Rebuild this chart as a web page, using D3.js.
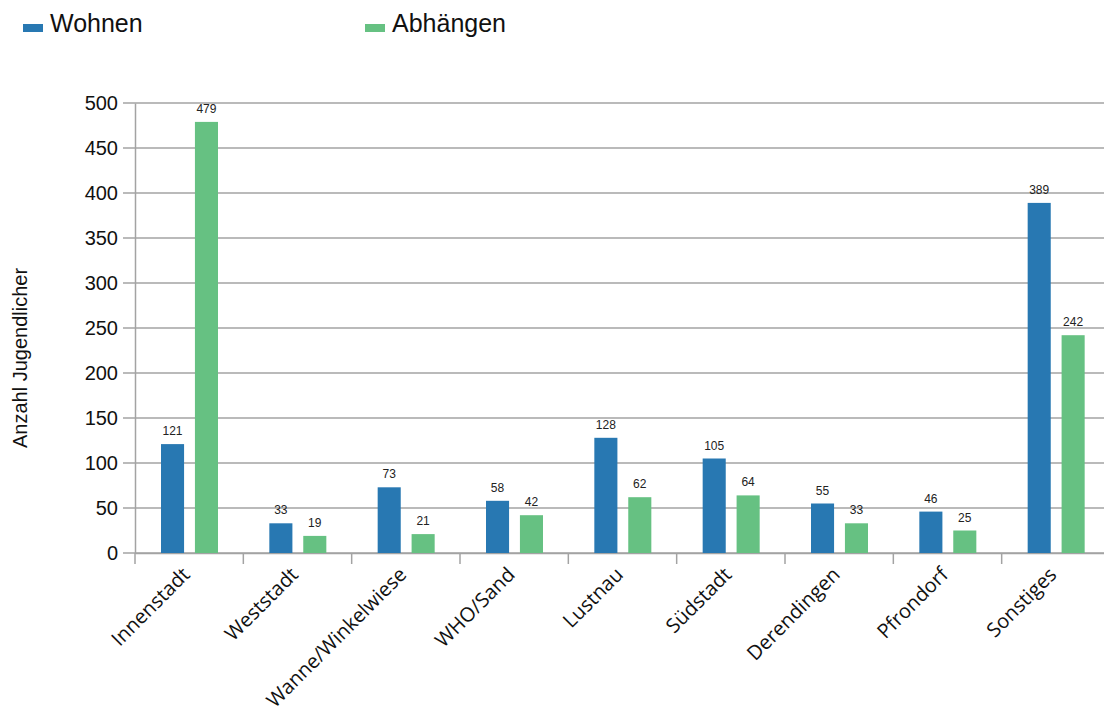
<!DOCTYPE html>
<html>
<head>
<meta charset="utf-8">
<script src="https://cdn.jsdelivr.net/npm/d3@7"></script>
<style>
  body { margin: 0; background: #fff; }
</style>
</head>
<body>
<script>
// Daten
var stadtteile = ["Innenstadt", "Weststadt", "Wanne/Winkelwiese", "WHO/Sand", "Lustnau", "Südstadt", "Derendingen", "Pfrondorf", "Sonstiges"];
var wohnen = [121, 33, 73, 58, 128, 105, 55, 46, 389];
var abhaengen = [479, 19, 21, 42, 62, 64, 33, 25, 242];
var serien = ["Wohnen", "Abhängen"];
var yTicks = [0, 50, 100, 150, 200, 250, 300, 350, 400, 450, 500];

var larg = 1104, haut = 720;
var couleurs = {"Wohnen": "#2878b2", "Abhängen": "#66c182"};

var svg = d3.select("body").append("svg")
  .attr("width", larg)
  .attr("height", haut);

var x = d3.scaleBand().domain(stadtteile).range([135, 1110]);
var xs = d3.scaleBand().domain(serien).range([26, 83]).paddingInner(0.32);
var y = d3.scaleLinear().domain([0, 500]).range([553, 103]);

// Gitterlinien
svg.append("g")
  .selectAll("line")
  .data(yTicks)
  .enter().append("line")
  .attr("x1", 123).attr("x2", larg)
  .attr("y1", function(d) { return y(d); })
  .attr("y2", function(d) { return y(d); })
  .attr("stroke", "#a3a3a3")
  .attr("stroke-width", 1.5);

// y-Achse
var yAxis = svg.append("g")
  .attr("transform", "translate(135,0)")
  .call(d3.axisLeft(y).tickValues(yTicks).tickSize(0).tickPadding(17));
yAxis.select(".domain").attr("stroke", "#a3a3a3").attr("stroke-width", 1.5);
yAxis.selectAll("text")
  .attr("font-family", "Liberation Sans, Arial, sans-serif")
  .attr("font-size", "20px")
  .attr("fill", "#111");

// x-Achse
var xAxis = svg.append("g")
  .attr("transform", "translate(0,553)")
  .call(d3.axisBottom(x).tickSize(0).tickFormat(""));
xAxis.select(".domain").attr("stroke", "#a3a3a3").attr("stroke-width", 1.5);
svg.append("g").selectAll("line")
  .data(stadtteile)
  .enter().append("line")
  .attr("x1", function(d) { return x(d); })
  .attr("x2", function(d) { return x(d); })
  .attr("y1", 553).attr("y2", 564)
  .attr("stroke", "#a3a3a3")
  .attr("stroke-width", 1.5);

svg.append("g").selectAll("text")
  .data(stadtteile)
  .enter().append("text")
  .text(function(d) { return d; })
  .attr("text-anchor", "end")
  .attr("transform", function(d) {
    return "translate(" + (x(d) + x.bandwidth() / 2 - 8) + ",566) rotate(-45)";
  })
  .attr("dy", "0.7em")
  .attr("font-family", "Open Sans, sans-serif")
  .attr("font-size", "20px")
  .attr("fill", "#111");

// Balken
var donnees = [];
stadtteile.forEach(function(s, i) {
  donnees.push({cat: s, serie: "Wohnen", val: wohnen[i]});
  donnees.push({cat: s, serie: "Abhängen", val: abhaengen[i]});
});

svg.append("g").selectAll("rect")
  .data(donnees)
  .enter().append("rect")
  .attr("x", function(d) { return x(d.cat) + xs(d.serie); })
  .attr("y", function(d) { return y(d.val); })
  .attr("width", xs.bandwidth())
  .attr("height", function(d) { return y(0) - y(d.val); })
  .attr("fill", function(d) { return couleurs[d.serie]; });

// Werte
svg.append("g").selectAll("text")
  .data(donnees)
  .enter().append("text")
  .text(function(d) { return d.val; })
  .attr("x", function(d) { return x(d.cat) + xs(d.serie) + xs.bandwidth() / 2; })
  .attr("y", function(d) { return y(d.val) - 9; })
  .attr("text-anchor", "middle")
  .attr("font-family", "Liberation Sans, Arial, sans-serif")
  .attr("font-size", "12px")
  .attr("fill", "#222");

// Achsentitel
svg.append("text")
  .text("Anzahl Jugendlicher")
  .attr("transform", "translate(27,358) rotate(-90)")
  .attr("text-anchor", "middle")
  .attr("font-family", "Liberation Sans, Arial, sans-serif")
  .attr("font-size", "20px")
  .attr("fill", "#111");

// Legende
var legX = [23, 365];
var leg = svg.append("g").selectAll("g")
  .data(serien)
  .enter().append("g")
  .attr("transform", function(d, i) { return "translate(" + legX[i] + ",0)"; });
leg.append("rect")
  .attr("x", 0).attr("y", 24)
  .attr("width", 20).attr("height", 8)
  .attr("fill", function(d) { return couleurs[d]; });
leg.append("text")
  .text(function(d) { return d; })
  .attr("x", 27).attr("y", 32)
  .attr("font-family", "Liberation Sans, Arial, sans-serif")
  .attr("font-size", "25px")
  .attr("fill", "#111");
</script>
</body>
</html>
